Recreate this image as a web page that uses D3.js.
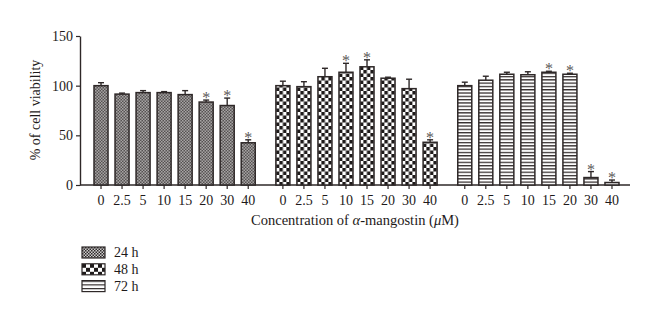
<!DOCTYPE html>
<html>
<head>
<meta charset="utf-8">
<script src="https://cdn.jsdelivr.net/npm/d3@7/dist/d3.min.js"></script>
<style>
  html, body { margin: 0; padding: 0; background: #fff; }
  svg { display: block; }
  text { font-family: "Liberation Serif", "DejaVu Serif", serif; fill: #1e1a1a; }
</style>
</head>
<body>
<svg id="chart" width="660" height="324"></svg>
<script>
// Exposure times and α-mangostin concentrations (μM)
const groups = ["24 h", "48 h", "72 h"];
const concentrations = ["0", "2.5", "5", "10", "15", "20", "30", "40"];
const yTicks = [0, 50, 100, 150];

// Mean % cell viability and upper error (SD) per concentration
const viability24 = [100, 91.5, 93, 93, 91, 83.5, 80, 42.5];
const error24     = [3, 1, 2, 1, 4, 2, 7.5, 3];
const signif24    = [0, 0, 0, 0, 0, 1, 1, 1];

const viability48 = [100, 99, 109, 113.5, 119, 107.5, 97, 43];
const error48     = [4.5, 5, 8.5, 9, 7, 1, 9.5, 2.5];
const signif48    = [0, 0, 0, 1, 1, 0, 0, 1];

const viability72 = [100, 105.5, 111.5, 111, 113.5, 111.5, 7.5, 2.5];
const error72     = [3.5, 4, 2, 3, 1, 1, 6, 2.5];
const signif72    = [0, 0, 0, 0, 1, 1, 1, 1];

const seriesValues = [viability24, viability48, viability72];
const seriesErrors = [error24, error48, error72];
const seriesSignif = [signif24, signif48, signif72];

const svg = d3.select("#chart");
const ink = "#2e2828";

// Fill patterns: fine checker (24 h), coarse checker (48 h), stripes (72 h)
const defs = svg.append("defs");
function checker(id, cell, dark, light) {
  const p = defs.append("pattern").attr("id", id)
    .attr("patternUnits", "userSpaceOnUse")
    .attr("width", cell * 2).attr("height", cell * 2);
  p.append("rect").attr("width", cell * 2).attr("height", cell * 2).attr("fill", light);
  p.append("rect").attr("width", cell).attr("height", cell).attr("fill", dark);
  p.append("rect").attr("x", cell).attr("y", cell).attr("width", cell).attr("height", cell).attr("fill", dark);
}
function stripes(id, period, line, dark) {
  const p = defs.append("pattern").attr("id", id)
    .attr("patternUnits", "userSpaceOnUse")
    .attr("width", 8).attr("height", period);
  p.append("rect").attr("width", 8).attr("height", period).attr("fill", "#fff");
  p.append("rect").attr("width", 8).attr("height", line).attr("fill", dark);
}
checker("p24", 1.5, "#2e2a2a", "#cfcdcd");
checker("p48", 3.5, "#1e1a1a", "#ffffff");
stripes("p72", 3.3, 1.3, "#342e2e");
checker("l24", 1.5, "#2e2a2a", "#cfcdcd");
checker("l48", 4, "#1e1a1a", "#ffffff");
stripes("l72", 3.7, 1.2, "#342e2e");
const fills = ["url(#p24)", "url(#p48)", "url(#p72)"];
const legendFills = ["url(#l24)", "url(#l48)", "url(#l72)"];

// Scales
const y = d3.scaleLinear().domain([0, 150]).range([185, 36]);
const xGroup = d3.scaleBand().domain(groups).range([90.5, 622.5]).paddingInner(0.075);
const xConc = d3.scaleBand().domain(concentrations).range([0, xGroup.bandwidth()])
  .paddingInner(1 / 3).paddingOuter(1 / 6);

// Y axis
const yAxis = svg.append("g").attr("transform", "translate(80,0)")
  .call(d3.axisLeft(y).tickValues(yTicks).tickSize(4).tickPadding(3).tickSizeOuter(0));
yAxis.select(".domain").attr("stroke", ink).attr("stroke-width", 1.4);
yAxis.selectAll(".tick line").attr("stroke", ink).attr("stroke-width", 1.2);
yAxis.selectAll(".tick text").style("font-size", "14px").attr("fill", "#1e1a1a");

svg.append("text")
  .attr("transform", "translate(40,110) rotate(-90)")
  .attr("text-anchor", "middle")
  .style("font-size", "14px")
  .text("% of cell viability");

// X baseline
svg.append("line")
  .attr("x1", 80).attr("x2", 630)
  .attr("y1", y(0)).attr("y2", y(0))
  .attr("stroke", ink).attr("stroke-width", 1.4);

// Bars, error bars and significance marks per exposure time
groups.forEach((g, gi) => {
  const gx = xGroup(g);
  const layer = svg.append("g").attr("transform", `translate(${gx},0)`);

  const axis = layer.append("g").attr("transform", `translate(0,${y(0)})`)
    .call(d3.axisBottom(xConc).tickSize(4).tickPadding(6).tickSizeOuter(0));
  axis.select(".domain").remove();
  axis.selectAll(".tick line").attr("stroke", ink).attr("stroke-width", 1.2);
  axis.selectAll(".tick text").style("font-size", "14px").attr("fill", "#1e1a1a");

  const data = concentrations.map((c, i) => ({
    c, v: seriesValues[gi][i], e: seriesErrors[gi][i], s: seriesSignif[gi][i]
  }));

  // error bars (upper only) drawn behind bars
  const eb = layer.selectAll(".err").data(data).join("g").attr("class", "err");
  eb.append("line")
    .attr("x1", d => xConc(d.c) + xConc.bandwidth() / 2)
    .attr("x2", d => xConc(d.c) + xConc.bandwidth() / 2)
    .attr("y1", d => y(d.v)).attr("y2", d => y(d.v + d.e))
    .attr("stroke", ink).attr("stroke-width", 1.4);
  eb.append("line")
    .attr("x1", d => xConc(d.c) + xConc.bandwidth() / 2 - 3)
    .attr("x2", d => xConc(d.c) + xConc.bandwidth() / 2 + 3)
    .attr("y1", d => y(d.v + d.e)).attr("y2", d => y(d.v + d.e))
    .attr("stroke", ink).attr("stroke-width", 1.4);

  layer.selectAll(".bar").data(data).join("rect").attr("class", "bar")
    .attr("x", d => xConc(d.c))
    .attr("y", d => y(d.v))
    .attr("width", xConc.bandwidth())
    .attr("height", d => y(0) - y(d.v))
    .attr("fill", fills[gi])
    .attr("stroke", ink).attr("stroke-width", 1.5);

  layer.selectAll(".star").data(data.filter(d => d.s)).join("text").attr("class", "star")
    .attr("x", d => xConc(d.c) + xConc.bandwidth() / 2)
    .attr("y", d => y(d.v + d.e) + 3)
    .attr("text-anchor", "middle")
    .style("font-size", "16px")
    .style("fill", "#5c5858")
    .text("*");
});

// X axis title with italic α and μ
const xTitle = svg.append("text")
  .attr("x", 355).attr("y", 225)
  .attr("text-anchor", "middle")
  .style("font-size", "14.5px");
xTitle.append("tspan").text("Concentration of ");
xTitle.append("tspan").style("font-style", "italic").text("α");
xTitle.append("tspan").text("-mangostin (");
xTitle.append("tspan").style("font-style", "italic").text("μ");
xTitle.append("tspan").text("M)");

// Legend
const legend = svg.append("g");
groups.forEach((g, i) => {
  const row = legend.append("g").attr("transform", `translate(82,${247 + i * 16.8})`);
  row.append("rect").attr("width", 23).attr("height", 11)
    .attr("fill", legendFills[i]).attr("stroke", ink).attr("stroke-width", 1.2);
  row.append("text").attr("x", 32).attr("y", 10)
    .style("font-size", "14px").text(g);
});
</script>
</body>
</html>
